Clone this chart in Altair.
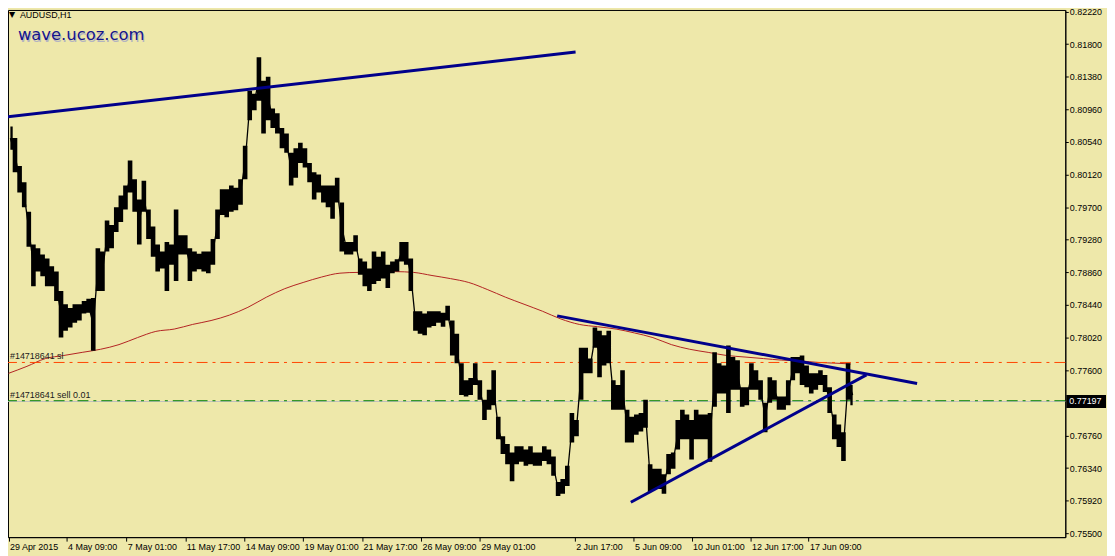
import altair as alt
import pandas as pd

# ---------------- data ----------------
STEP = 5  # hourly bars per sample
hi = [0.8074, 0.8059, 0.8023, 0.8002, 0.7964, 0.7922, 0.7917, 0.7909, 0.7904, 0.7894,
      0.7887, 0.7862, 0.7845, 0.7840, 0.7845, 0.7845, 0.7849, 0.7852, 0.7853, 0.7917,
      0.7913, 0.7953, 0.7947, 0.7970, 0.7985, 0.7998, 0.8030, 0.8006, 0.7980, 0.8004,
      0.7967, 0.7945, 0.7922, 0.7913, 0.7925, 0.7922, 0.7967, 0.7934, 0.7934, 0.7917,
      0.7913, 0.7910, 0.7913, 0.7913, 0.7929, 0.7967, 0.7993, 0.7993, 0.7998, 0.7995,
      0.8006, 0.8049, 0.8120, 0.8116, 0.8163, 0.8133, 0.8138, 0.8097, 0.8091, 0.8072,
      0.8065, 0.8040, 0.8046, 0.8053, 0.8046, 0.8027, 0.8015, 0.8012, 0.7998, 0.7998,
      0.7998, 0.8008, 0.7976, 0.7925, 0.7925, 0.7934, 0.7904, 0.7900, 0.7891, 0.7913,
      0.7906, 0.7913, 0.7896, 0.7900, 0.7903, 0.7925, 0.7925, 0.7904, 0.7836, 0.7836,
      0.7833, 0.7836, 0.7836, 0.7836, 0.7834, 0.7843, 0.7824, 0.7807, 0.7769, 0.7747,
      0.7750, 0.7769, 0.7747, 0.7722, 0.7735, 0.7760, 0.7700, 0.7675, 0.7665, 0.7654,
      0.7662, 0.7662, 0.7658, 0.7662, 0.7654, 0.7654, 0.7662, 0.7658, 0.7649, 0.7616,
      0.7620, 0.7637, 0.7705, 0.7696, 0.7789, 0.7789, 0.7775, 0.7815, 0.7811, 0.7805,
      0.7811, 0.7747, 0.7741, 0.7760, 0.7709, 0.7700, 0.7703, 0.7705, 0.7722, 0.7639,
      0.7633, 0.7633, 0.7626, 0.7652, 0.7654, 0.7696, 0.7709, 0.7703, 0.7696, 0.7709,
      0.7703, 0.7703, 0.7705, 0.7783, 0.7769, 0.7766, 0.7792, 0.7777, 0.7773, 0.7738,
      0.7738, 0.7769, 0.7760, 0.7747, 0.7718, 0.7751, 0.7747, 0.7726, 0.7726, 0.7747,
      0.7777, 0.7777, 0.7779, 0.7766, 0.7756, 0.7756, 0.7760, 0.7754, 0.7738, 0.7703,
      0.7690, 0.7680, 0.7769, 0.7741]
lo = [0.8044, 0.8015, 0.7989, 0.7970, 0.7919, 0.7868, 0.7887, 0.7881, 0.7868, 0.7868,
      0.7849, 0.7802, 0.7811, 0.7815, 0.7821, 0.7824, 0.7833, 0.7834, 0.7785, 0.7862,
      0.7862, 0.7913, 0.7917, 0.7938, 0.7951, 0.7967, 0.7989, 0.7964, 0.7922, 0.7964,
      0.7929, 0.7906, 0.7887, 0.7891, 0.7862, 0.7896, 0.7875, 0.7909, 0.7909, 0.7875,
      0.7887, 0.7890, 0.7887, 0.7885, 0.7896, 0.7929, 0.7960, 0.7957, 0.7964, 0.7966,
      0.7973, 0.8006, 0.8082, 0.8095, 0.8107, 0.8065, 0.8082, 0.8072, 0.8065, 0.8046,
      0.8040, 0.7998, 0.8008, 0.8027, 0.8021, 0.8002, 0.7980, 0.7989, 0.7976, 0.7970,
      0.7955, 0.7976, 0.7913, 0.7909, 0.7909, 0.7913, 0.7883, 0.7868, 0.7862, 0.7871,
      0.7875, 0.7878, 0.7866, 0.7885, 0.7887, 0.7900, 0.7896, 0.7862, 0.7811, 0.7807,
      0.7805, 0.7815, 0.7817, 0.7821, 0.7816, 0.7824, 0.7779, 0.7769, 0.7728, 0.7726,
      0.7728, 0.7741, 0.7722, 0.7696, 0.7709, 0.7715, 0.7671, 0.7652, 0.7639, 0.7617,
      0.7639, 0.7642, 0.7637, 0.7639, 0.7637, 0.7637, 0.7643, 0.7639, 0.7624, 0.7598,
      0.7601, 0.7611, 0.7667, 0.7675, 0.7722, 0.7756, 0.7756, 0.7789, 0.7751, 0.7766,
      0.7769, 0.7709, 0.7709, 0.7709, 0.7667, 0.7667, 0.7677, 0.7681, 0.7686, 0.7603,
      0.7607, 0.7607, 0.7601, 0.7626, 0.7633, 0.7658, 0.7671, 0.7671, 0.7645, 0.7671,
      0.7671, 0.7671, 0.7642, 0.7713, 0.7730, 0.7730, 0.7705, 0.7735, 0.7735, 0.7713,
      0.7715, 0.7735, 0.7735, 0.7722, 0.7680, 0.7718, 0.7722, 0.7709, 0.7709, 0.7715,
      0.7747, 0.7756, 0.7741, 0.7738, 0.7730, 0.7735, 0.7741, 0.7732, 0.7705, 0.7671,
      0.7661, 0.7643, 0.7722, 0.7715]
bars = [STEP * i + 2 for i in range(len(hi))]

# moving average, sampled every 20 bars (last point = last bar)
ma = [0.7756, 0.7765, 0.7775, 0.7779, 0.7783, 0.7787, 0.7793, 0.7802, 0.7810, 0.7813,
      0.7819, 0.7824, 0.7831, 0.7841, 0.7854, 0.7865, 0.7873, 0.7880, 0.7885, 0.7886,
      0.7886, 0.7887, 0.7886, 0.7882, 0.7878, 0.7873, 0.7864, 0.7854, 0.7845, 0.7836,
      0.7826, 0.7819, 0.7816, 0.7813, 0.7808, 0.7802, 0.7793, 0.7787, 0.7783, 0.7779,
      0.7777, 0.7775, 0.7773, 0.7772, 0.7770, 0.7769, 0.7768]
ma_bar = [20 * j for j in range(len(ma) - 1)] + [915]

# trend lines (bar index, price)
trend_id = ["a", "a", "b", "b", "c", "c"]
trend_bar = [-3.0, 616, 596, 987, 676, 932]
trend_px = [0.8086, 0.8170, 0.7830, 0.7743, 0.7590, 0.7754]

sl_price = 0.7770
open_price = 0.77207
bid_price = 0.77197

y_ticks = [0.8222, 0.8180, 0.8138, 0.8096, 0.8054, 0.8012, 0.7970, 0.7928, 0.7886,
           0.7844, 0.7802, 0.7760, 0.7676, 0.7634, 0.7592, 0.7550]
x_tick_bars = [0, 63, 128, 192, 256, 320, 384, 448, 512, 615, 679, 742, 806, 869]
x_tick_labels = ["29 Apr 2015", "4 May 09:00", "7 May 01:00", "11 May 17:00",
                 "14 May 09:00", "19 May 01:00", "21 May 17:00", "26 May 09:00",
                 "29 May 01:00", "2 Jun 17:00", "5 Jun 09:00", "10 Jun 01:00",
                 "12 Jun 17:00", "17 Jun 09:00"]

# ---------------- chart ----------------
W, H = 1065, 531
BG = "#EEE8AA"
FONT = "Liberation Sans"

xs = alt.Scale(domain=[-0.6, 1148], nice=False, zero=False)
ys = alt.Scale(domain=[0.7545, 0.8224], nice=False, zero=False)

lab_expr = "[" + ",".join("'%s'" % s for s in x_tick_labels) + "][indexof([" + \
    ",".join(str(v) for v in x_tick_bars) + "], datum.value)]"

xaxis = alt.Axis(values=x_tick_bars, labelExpr=lab_expr, orient="bottom", title=None,
                 labelAlign="left", labelBaseline="top", labelPadding=1, labelOffset=1,
                 tickSize=4, labelOverlap=False, labelFlush=False, labelBound=False,
                 grid=False)
yaxis = alt.Axis(values=y_ticks, format=".5f", orient="right", title=None,
                 tickSize=3, labelPadding=1, labelOverlap=False, grid=False,
                 labelFlush=False)


def X(field):
    return alt.X(field, scale=xs, axis=xaxis)


def Y(field):
    return alt.Y(field, scale=ys, axis=yaxis)


price_df = pd.DataFrame({"bar": bars, "hi": hi, "lo": lo})

band = alt.Chart(price_df).mark_area(color="black", opacity=1, interpolate="step").encode(
    x=X("bar:Q"), y=Y("lo:Q"), y2="hi:Q",
)
mid = alt.Chart(price_df).transform_calculate(
    mid="(datum.hi + datum.lo) / 2"
).mark_line(color="black", strokeWidth=1.3).encode(
    x=X("bar:Q"), y=Y("mid:Q"),
)

ma_df = pd.DataFrame({"bar": ma_bar, "ma": ma})
ma_line = alt.Chart(ma_df).mark_line(color="#B22222", strokeWidth=1,
                                     interpolate="monotone").encode(
    x=X("bar:Q"), y=Y("ma:Q"),
)

tr_df = pd.DataFrame({"id": trend_id, "bar": trend_bar, "price": trend_px})
trends = alt.Chart(tr_df).mark_line(color="#00008B", strokeWidth=3, clip=True).encode(
    x=X("bar:Q"), y=Y("price:Q"), detail="id:N",
)

hl_df = pd.DataFrame({"p": [sl_price]})
sl_line = alt.Chart(hl_df).mark_rule(color="#FF4500", strokeWidth=1,
                                     strokeDash=[11, 5, 3, 5]).encode(y=Y("p:Q"))

bid_df = pd.DataFrame({"p": [bid_price]})
bid_line = alt.Chart(bid_df).mark_rule(color="#C0C0C0", strokeWidth=1).encode(y=Y("p:Q"))

op_df = pd.DataFrame({"p": [open_price]})
op_line = alt.Chart(op_df).mark_rule(color="#008000", strokeWidth=1,
                                     strokeDash=[11, 5, 3, 5]).encode(y=Y("p:Q"))

lab_df = pd.DataFrame({"p": [sl_price, open_price],
                       "t": ["#14718641 sl", "#14718641 sell 0.01"]})
order_labels = alt.Chart(lab_df).mark_text(
    align="left", baseline="bottom", dy=-1, font=FONT, fontSize=9, color="#1a1a1a"
).encode(
    x=alt.value(2), y=Y("p:Q"), text="t:N",
)

# current price marker on the right axis
cur_box = alt.Chart(bid_df).mark_rule(color="black", strokeWidth=13, clip=False).encode(
    x=alt.value(W + 1), x2=alt.value(W + 41), y=Y("p:Q"),
)
cur_txt = alt.Chart(pd.DataFrame({"p": [bid_price], "t": ["0.77197"]})).mark_text(
    align="left", baseline="middle", font=FONT, fontSize=9, color="white", clip=False
).encode(
    x=alt.value(W + 4), y=Y("p:Q"), text="t:N",
)

head_df = pd.DataFrame({"t": ["AUDUSD,H1"]})
tri = alt.Chart(head_df).mark_text(text="▼", font="DejaVu Sans", fontSize=8,
                                   color="black", align="center", baseline="middle").encode(
    x=alt.value(4), y=alt.value(5))
sym = alt.Chart(head_df).mark_text(font=FONT, fontSize=9, color="black",
                                   align="left", baseline="middle").encode(
    x=alt.value(12), y=alt.value(5), text="t:N")

site_df = pd.DataFrame({"t": ["wave.ucoz.com"]})
site_shadow = alt.Chart(site_df).mark_text(font="DejaVu Sans", fontSize=16.5, color="#b4b4c0",
                                           align="left", baseline="middle").encode(
    x=alt.value(11), y=alt.value(27), text="t:N")
site = alt.Chart(site_df).mark_text(font="DejaVu Sans", fontSize=16.5, color="#14148C",
                                    align="left", baseline="middle").encode(
    x=alt.value(10), y=alt.value(25), text="t:N")

chart = alt.layer(
    ma_line, sl_line, bid_line, op_line, band, mid, trends, order_labels,
    cur_box, cur_txt, tri, sym, site_shadow, site,
).properties(
    width=W, height=H,
    autosize=alt.AutoSizeParams(type="none"),
    padding={"left": 0, "top": 0, "right": 42, "bottom": 17},
    background=BG,
).configure_view(
    stroke="black", strokeWidth=1, fill=BG,
).configure_axis(
    labelFont=FONT, labelFontSize=9, labelColor="black",
    tickColor="black", domainColor="black", domainWidth=1, tickWidth=1,
)

chart.save("out.html", embed_options={"renderer": "svg", "actions": False})
